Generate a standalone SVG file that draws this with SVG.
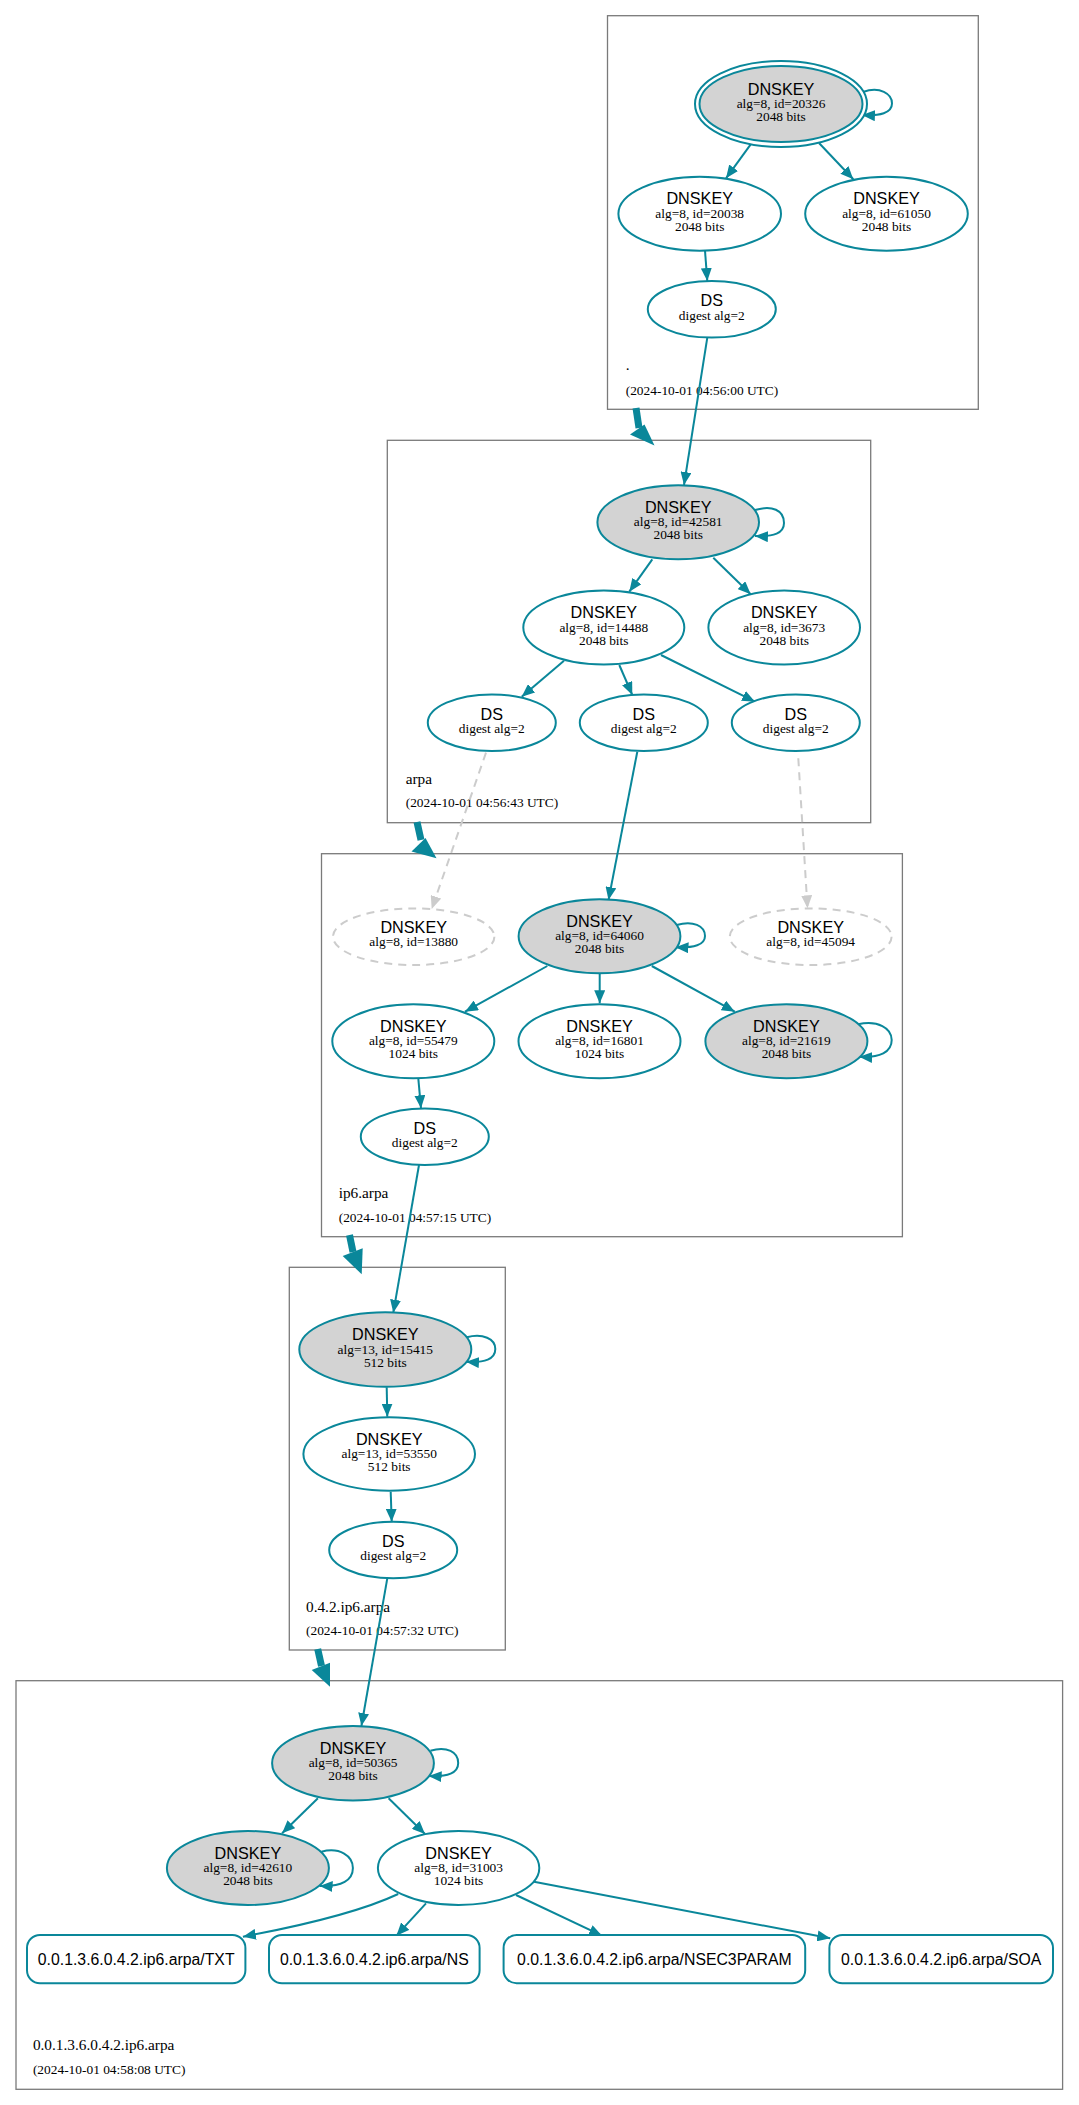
<svg xmlns="http://www.w3.org/2000/svg" width="1079" height="2105" viewBox="0 0 1079 2105">
<style>
.cl{fill:none;stroke:#7a7a7a;stroke-width:1.3}
.n{fill:#fff;stroke:#0a879a;stroke-width:2}
.k{fill:#d3d3d3;stroke:#0a879a;stroke-width:2}
.i{fill:none;stroke:#cccccc;stroke-width:2;stroke-dasharray:8,6}
.e{fill:none;stroke:#0a879a;stroke-width:2;marker-end:url(#a)}
.ed{fill:none;stroke:#cccccc;stroke-width:2;stroke-dasharray:8,6;marker-end:url(#ag)}
.thick{stroke:#0a879a;stroke-width:7;fill:none}
.head{fill:#0a879a}
.h{font-family:"Liberation Sans",Arial,sans-serif;font-size:16.2px;text-anchor:middle;fill:#000}
.s{font-family:"Liberation Serif","Times New Roman",serif;font-size:13.4px;text-anchor:middle;fill:#000}
.r{font-family:"Liberation Sans",Arial,sans-serif;font-size:15.8px;text-anchor:middle;fill:#000}
.zn{font-family:"Liberation Serif","Times New Roman",serif;font-size:15.3px;fill:#000}
.zt{font-family:"Liberation Serif","Times New Roman",serif;font-size:13.4px;fill:#000}
</style>
<defs>
<marker id="a" viewBox="0 0 13 11" refX="13" refY="5.5" markerWidth="13" markerHeight="11" markerUnits="userSpaceOnUse" orient="auto"><path d="M0,0 L13,5.5 L0,11 z" fill="#0a879a"/></marker>
<marker id="ag" viewBox="0 0 13 11" refX="13" refY="5.5" markerWidth="13" markerHeight="11" markerUnits="userSpaceOnUse" orient="auto"><path d="M0,0 L13,5.5 L0,11 z" fill="#cccccc"/></marker>
</defs>
<rect width="1079" height="2105" fill="#fff"/>

<g id="clusters">
<g id="zone-root"><rect class="cl" x="607.5" y="15.7" width="370.8" height="393.6"/>
<text class="zn" x="625.7" y="370">.</text><text class="zt" x="625.7" y="395">(2024-10-01 04:56:00 UTC)</text></g>
<g id="zone-arpa"><rect class="cl" x="387.3" y="440.3" width="483.4" height="382.4"/>
<text class="zn" x="405.7" y="784">arpa</text><text class="zt" x="405.7" y="807.3">(2024-10-01 04:56:43 UTC)</text></g>
<g id="zone-ip6"><rect class="cl" x="321.5" y="853.7" width="580.9" height="383"/>
<text class="zn" x="338.7" y="1198.3">ip6.arpa</text><text class="zt" x="338.7" y="1221.7">(2024-10-01 04:57:15 UTC)</text></g>
<g id="zone-042"><rect class="cl" x="289.3" y="1267.3" width="216" height="382.7"/>
<text class="zn" x="306" y="1611.7">0.4.2.ip6.arpa</text><text class="zt" x="306" y="1635">(2024-10-01 04:57:32 UTC)</text></g>
<g id="zone-leaf"><rect class="cl" x="16" y="1680.7" width="1046.6" height="408.6"/>
<text class="zn" x="32.9" y="2050">0.0.1.3.6.0.4.2.ip6.arpa</text><text class="zt" x="32.9" y="2074">(2024-10-01 04:58:08 UTC)</text></g>
</g>

<g id="connectors">
<!-- root -->
<path class="e" d="M750.7,144.3 L726,178.3"/>
<path class="e" d="M819,143 L853.3,179.3"/>
<path class="e" d="M705,250.7 L707.3,281"/>
<path class="e" d="M863,92 C880,86 892,94 892,103.5 C892,113 880,116 862,115"/>
<path class="e" d="M707.3,337.7 L684,485"/>
<!-- arpa -->
<path class="e" d="M755,510 C772,505 784,510 784,523 C784,533 774,537 755,536"/>
<path class="e" d="M652.3,559.3 L629.3,591.7"/>
<path class="e" d="M713.3,557.7 L750.7,594.3"/>
<path class="e" d="M564,660.7 L521.7,696.7"/>
<path class="e" d="M619.3,665 L632.3,695"/>
<path class="e" d="M661,655 L755,701.7"/>
<path class="e" d="M637.3,751.7 L608.5,900"/>
<path class="ed" d="M486,752.7 L431.7,909"/>
<path class="ed" d="M798.3,758.3 L807.5,908.3"/>
<!-- ip6.arpa -->
<path class="e" d="M676.6,925 C693,920 705,926 705,936 C705,945 694,948 675.5,947.3"/>
<path class="e" d="M547.3,966 L465,1011.7"/>
<path class="e" d="M599.7,974 L599.7,1003.3"/>
<path class="e" d="M651.8,966 L734.8,1011.7"/>
<path class="e" d="M858,1024.3 C878,1020 891.7,1028 891.7,1040 C891.7,1052 880,1058 859.2,1056.7"/>
<path class="e" d="M418.3,1078.3 L421,1108.3"/>
<path class="e" d="M419,1165 L393.3,1312.7"/>
<!-- 0.4.2 -->
<path class="e" d="M466.7,1337.3 C483,1333 495.3,1339 495.3,1349 C495.3,1359 485,1363 466,1361.7"/>
<path class="e" d="M386.7,1387.3 L387.3,1416.7"/>
<path class="e" d="M390.7,1491.7 L391.7,1521.7"/>
<path class="e" d="M387.3,1578.3 L361.4,1726"/>
<!-- leaf -->
<path class="e" d="M430.4,1750.7 C447,1746 458.2,1752 458.2,1763 C458.2,1773 448,1777 428.6,1776"/>
<path class="e" d="M317.9,1798.3 L282.1,1833.3"/>
<path class="e" d="M388.6,1798.3 L425,1834"/>
<path class="e" d="M321.4,1851.7 C340,1847 352.9,1856 352.9,1868 C352.9,1880 342,1887 319.6,1886"/>
<path class="e" d="M398.2,1894 C360,1912 300,1926 242.9,1936.7"/>
<path class="e" d="M426,1903.3 L396.4,1935.7"/>
<path class="e" d="M516,1895 L602,1935.7"/>
<path class="e" d="M534,1881.7 L830.2,1938.3"/>
<!-- delegation arrows -->
<g id="deleg">
<path class="thick" d="M636,408 L639,428"/><polygon class="head" points="630,434.5 644.5,424.5 654.5,445.5"/>
<path class="thick" d="M417,822 L421,840"/><polygon class="head" points="411.5,851.5 425.5,838 436.5,858.3"/>
<path class="thick" d="M349.5,1235 L353,1252"/><polygon class="head" points="342.7,1256 362.7,1248.3 361.7,1274.3"/>
<path class="thick" d="M317.7,1649 L321.5,1666"/><polygon class="head" points="311.7,1670 330,1662.7 330,1686.7"/>
</g>
</g>

<g id="nodes">
<g id="n20326"><ellipse class="n" cx="781" cy="104" rx="86" ry="43" fill="none"/><ellipse class="k" cx="781" cy="104" rx="81.5" ry="38"/>
<text class="h" x="781" y="94.5">DNSKEY</text><text class="s" x="781" y="108">alg=8, id=20326</text><text class="s" x="781" y="121">2048 bits</text></g>
<g id="n20038"><ellipse class="n" cx="699.7" cy="213.7" rx="81.3" ry="37"/>
<text class="h" x="699.7" y="204.2">DNSKEY</text><text class="s" x="699.7" y="217.7">alg=8, id=20038</text><text class="s" x="699.7" y="230.7">2048 bits</text></g>
<g id="n61050"><ellipse class="n" cx="886.5" cy="213.7" rx="81.3" ry="37"/>
<text class="h" x="886.5" y="204.2">DNSKEY</text><text class="s" x="886.5" y="217.7">alg=8, id=61050</text><text class="s" x="886.5" y="230.7">2048 bits</text></g>
<g id="ds-root"><ellipse class="n" cx="711.8" cy="309.3" rx="64" ry="28.3"/>
<text class="h" x="711.8" y="306.3">DS</text><text class="s" x="711.8" y="319.5">digest alg=2</text></g>

<g id="n42581"><ellipse class="k" cx="678.2" cy="522.2" rx="80.8" ry="37"/>
<text class="h" x="678.2" y="512.7">DNSKEY</text><text class="s" x="678.2" y="526.2">alg=8, id=42581</text><text class="s" x="678.2" y="539.2">2048 bits</text></g>
<g id="n14488"><ellipse class="n" cx="603.8" cy="627.5" rx="80.5" ry="37"/>
<text class="h" x="603.8" y="618">DNSKEY</text><text class="s" x="603.8" y="631.5">alg=8, id=14488</text><text class="s" x="603.8" y="644.5">2048 bits</text></g>
<g id="n3673"><ellipse class="n" cx="784.2" cy="627.5" rx="75.8" ry="37"/>
<text class="h" x="784.2" y="618">DNSKEY</text><text class="s" x="784.2" y="631.5">alg=8, id=3673</text><text class="s" x="784.2" y="644.5">2048 bits</text></g>
<g id="ds-arpa-1"><ellipse class="n" cx="491.8" cy="722.7" rx="64" ry="28.3"/>
<text class="h" x="491.8" y="719.7">DS</text><text class="s" x="491.8" y="732.9">digest alg=2</text></g>
<g id="ds-arpa-2"><ellipse class="n" cx="643.8" cy="722.7" rx="64" ry="28.3"/>
<text class="h" x="643.8" y="719.7">DS</text><text class="s" x="643.8" y="732.9">digest alg=2</text></g>
<g id="ds-arpa-3"><ellipse class="n" cx="795.8" cy="722.7" rx="64" ry="28.3"/>
<text class="h" x="795.8" y="719.7">DS</text><text class="s" x="795.8" y="732.9">digest alg=2</text></g>

<g id="n13880"><ellipse class="i" cx="413.7" cy="936.7" rx="80.7" ry="28.3"/>
<text class="h" x="413.7" y="933.4">DNSKEY</text><text class="s" x="413.7" y="946.2">alg=8, id=13880</text></g>
<g id="n64060"><ellipse class="k" cx="599.5" cy="936.3" rx="80.9" ry="37"/>
<text class="h" x="599.5" y="926.8">DNSKEY</text><text class="s" x="599.5" y="940.3">alg=8, id=64060</text><text class="s" x="599.5" y="953.3">2048 bits</text></g>
<g id="n45094"><ellipse class="i" cx="810.7" cy="936.7" rx="80.9" ry="28.3"/>
<text class="h" x="810.7" y="933.4">DNSKEY</text><text class="s" x="810.7" y="946.2">alg=8, id=45094</text></g>
<g id="n55479"><ellipse class="n" cx="413.3" cy="1041.2" rx="81" ry="37"/>
<text class="h" x="413.3" y="1031.7">DNSKEY</text><text class="s" x="413.3" y="1045.2">alg=8, id=55479</text><text class="s" x="413.3" y="1058.2">1024 bits</text></g>
<g id="n16801"><ellipse class="n" cx="599.5" cy="1041.2" rx="81" ry="37"/>
<text class="h" x="599.5" y="1031.7">DNSKEY</text><text class="s" x="599.5" y="1045.2">alg=8, id=16801</text><text class="s" x="599.5" y="1058.2">1024 bits</text></g>
<g id="n21619"><ellipse class="k" cx="786.4" cy="1041.2" rx="81" ry="37"/>
<text class="h" x="786.4" y="1031.7">DNSKEY</text><text class="s" x="786.4" y="1045.2">alg=8, id=21619</text><text class="s" x="786.4" y="1058.2">2048 bits</text></g>
<g id="ds-ip6"><ellipse class="n" cx="424.8" cy="1136.7" rx="64" ry="28.3"/>
<text class="h" x="424.8" y="1133.7">DS</text><text class="s" x="424.8" y="1146.9">digest alg=2</text></g>

<g id="n15415"><ellipse class="k" cx="385.3" cy="1349.5" rx="86" ry="37.2"/>
<text class="h" x="385.3" y="1340">DNSKEY</text><text class="s" x="385.3" y="1353.5">alg=13, id=15415</text><text class="s" x="385.3" y="1366.5">512 bits</text></g>
<g id="n53550"><ellipse class="n" cx="389.2" cy="1454" rx="85.8" ry="36.7"/>
<text class="h" x="389.2" y="1444.5">DNSKEY</text><text class="s" x="389.2" y="1458">alg=13, id=53550</text><text class="s" x="389.2" y="1471">512 bits</text></g>
<g id="ds-042"><ellipse class="n" cx="393.2" cy="1550" rx="64" ry="28.3"/>
<text class="h" x="393.2" y="1547">DS</text><text class="s" x="393.2" y="1560.2">digest alg=2</text></g>

<g id="n50365"><ellipse class="k" cx="353" cy="1763.3" rx="80.9" ry="37.3"/>
<text class="h" x="353" y="1753.8">DNSKEY</text><text class="s" x="353" y="1767.3">alg=8, id=50365</text><text class="s" x="353" y="1780.3">2048 bits</text></g>
<g id="n42610"><ellipse class="k" cx="247.9" cy="1868" rx="81" ry="37"/>
<text class="h" x="247.9" y="1858.5">DNSKEY</text><text class="s" x="247.9" y="1872">alg=8, id=42610</text><text class="s" x="247.9" y="1885">2048 bits</text></g>
<g id="n31003"><ellipse class="n" cx="458.6" cy="1868" rx="80.7" ry="37"/>
<text class="h" x="458.6" y="1858.5">DNSKEY</text><text class="s" x="458.6" y="1872">alg=8, id=31003</text><text class="s" x="458.6" y="1885">1024 bits</text></g>
<g id="rr-txt"><rect class="n" x="27" y="1935" width="218.4" height="48.3" rx="13"/><text class="r" x="136.2" y="1964.5">0.0.1.3.6.0.4.2.ip6.arpa/TXT</text></g>
<g id="rr-ns"><rect class="n" x="269" y="1935" width="210.6" height="48.3" rx="13"/><text class="r" x="374.3" y="1964.5">0.0.1.3.6.0.4.2.ip6.arpa/NS</text></g>
<g id="rr-nsec3param"><rect class="n" x="503.6" y="1935" width="301.6" height="48.3" rx="13"/><text class="r" x="654.4" y="1964.5">0.0.1.3.6.0.4.2.ip6.arpa/NSEC3PARAM</text></g>
<g id="rr-soa"><rect class="n" x="829.4" y="1935" width="223.6" height="48.3" rx="13"/><text class="r" x="941.2" y="1964.5">0.0.1.3.6.0.4.2.ip6.arpa/SOA</text></g>
</g>
</svg>
